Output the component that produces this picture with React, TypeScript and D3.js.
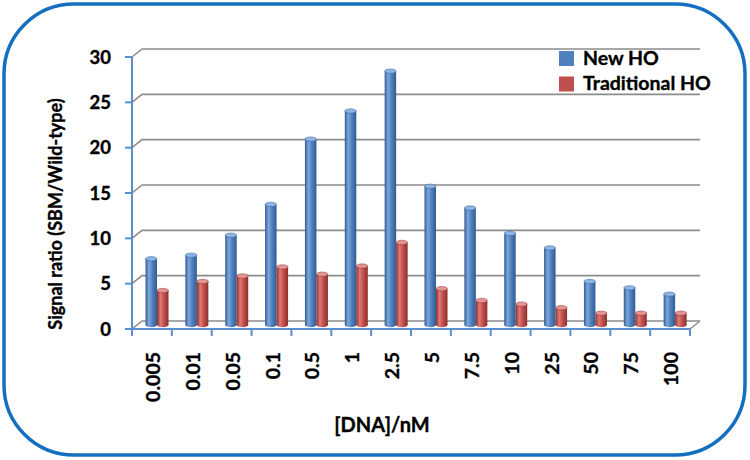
import React from "react";
import * as d3 from "d3";

const categories = ["0.005", "0.01", "0.05", "0.1", "0.5", "1", "2.5", "5", "7.5", "10", "25", "50", "75", "100"];
const newHO = [7.3, 7.7, 9.9, 13.3, 20.5, 23.6, 28.0, 15.3, 12.9, 10.1, 8.5, 4.8, 4.1, 3.4];
const tradHO = [3.8, 4.8, 5.4, 6.4, 5.6, 6.5, 9.1, 4.0, 2.7, 2.3, 1.9, 1.3, 1.3, 1.3];
const yTicks = [0, 5, 10, 15, 20, 25, 30];
const seriesNames = ["New HO", "Traditional HO"];

const W = 750, H = 460;
const X0 = 132, X1 = 690;
const DX = 10, DY = -8;
const FONT = "Lato, 'Open Sans', sans-serif";

export default function App() {
  const x = d3.scaleBand<string>().domain(categories).range([X0, X1]).padding(0);
  const yFront = d3.scaleLinear().domain([0, 30]).range([329, 57]);
  const yMid = (v: number) => yFront(v) + DY / 2;
  const bw = x.bandwidth();
  const barW = 11.5;
  const colors = [
    { base: "#4F81BD", dark: "#2f5d94", light: "#7ea6db", top: "#8fb3e3" },
    { base: "#C0504D", dark: "#8e2f2c", light: "#dd7a77", top: "#e39593" },
  ];
  const series = [newHO, tradHO];
  const txt = { fontFamily: FONT, fontWeight: 700, fill: "#000", stroke: "#000", strokeWidth: 0.35 } as const;

  return (
    <svg width={W} height={H} style={{ position: "absolute", left: 0, top: 0 }}>
      <defs>
        {colors.map((c, i) => (
          <linearGradient key={i} id={`cyl${i}`} x1="0" x2="1" y1="0" y2="0">
            <stop offset="0" stopColor={c.dark} />
            <stop offset="0.3" stopColor={c.light} />
            <stop offset="0.6" stopColor={c.base} />
            <stop offset="1" stopColor={c.dark} />
          </linearGradient>
        ))}
      </defs>
      <rect x={0} y={0} width={W} height={H} fill="#fff" />
      <rect x={4} y={4} width={741} height={451} rx={70} ry={70} fill="#fff" stroke="#156fc0" strokeWidth={3.5} />

      {/* back wall gridlines + side wall diagonals */}
      {yTicks.map((t) => (
        <path
          key={t}
          d={`M${X0},${yFront(t)} L${X0 + DX},${yFront(t) + DY} L${X1 + DX},${yFront(t) + DY}`}
          fill="none"
          stroke="#8c8c8c"
          strokeWidth={1.6}
        />
      ))}
      {/* floor right edge */}
      <path d={`M${X1},${yFront(0)} L${X1 + DX},${yFront(0) + DY}`} stroke="#8c8c8c" strokeWidth={1.6} fill="none" />

      {/* bars */}
      {categories.map((c, i) =>
        series.map((s, k) => {
          const bx = (x(c) as number) + 13.5 + k * barW;
          const yt = yMid(s[i]);
          const yb = yMid(0);
          const ry = 2.2;
          return (
            <g key={`${c}-${k}`}>
              <rect x={bx} y={yt} width={barW} height={yb - yt} fill={`url(#cyl${k})`} />
              <ellipse cx={bx + barW / 2} cy={yb} rx={barW / 2} ry={ry} fill={`url(#cyl${k})`} />
              <ellipse cx={bx + barW / 2} cy={yt} rx={barW / 2} ry={ry} fill={colors[k].top} stroke={colors[k].dark} strokeWidth={0.5} />
            </g>
          );
        })
      )}

      {/* y axis */}
      <line x1={X0} x2={X0} y1={yFront(30)} y2={yFront(0)} stroke="#5b8fd0" strokeWidth={2} />
      {yTicks.map((t) => (
        <g key={`yt${t}`}>
          <line x1={X0 - 7} x2={X0} y1={yFront(t)} y2={yFront(t)} stroke="#5b8fd0" strokeWidth={2} />
          <text x={111} y={yFront(t)} dy="0.36em" textAnchor="end" fontSize={18.5} {...txt}>
            {t}
          </text>
        </g>
      ))}

      {/* x axis */}
      <line x1={X0 - 7} x2={X1} y1={yFront(0)} y2={yFront(0)} stroke="#5b8fd0" strokeWidth={2} />
      {categories.map((c) => (
        <line key={`xt${c}`} x1={(x(c) as number) + bw} x2={(x(c) as number) + bw} y1={yFront(0)} y2={yFront(0) + 7} stroke="#5b8fd0" strokeWidth={2} />
      ))}
      <line x1={X0} x2={X0} y1={yFront(0)} y2={yFront(0) + 7} stroke="#5b8fd0" strokeWidth={2} />
      {categories.map((c) => (
        <text
          key={`xl${c}`}
          transform={`translate(${(x(c) as number) + bw / 2 + 1},352) rotate(-90)`}
          dy="0.36em"
          textAnchor="end"
          fontSize={19.5}
          {...txt}
        >
          {c}
        </text>
      ))}

      {/* axis titles */}
      <text transform="translate(56,214) rotate(-90)" dy="0.36em" textAnchor="middle" fontSize={18} {...txt}>
        Signal ratio (SBM/Wild-type)
      </text>
      <text x={382} y={432} textAnchor="middle" fontSize={20} {...txt}>
        [DNA]/nM
      </text>

      {/* legend */}
      {seriesNames.map((n, k) => (
        <g key={n}>
          <rect x={559} y={51 + k * 25.5} width={15} height={15} fill={colors[k].base} />
          <text x={583} y={64.5 + k * 25.5} fontSize={19.5} {...txt}>
            {n}
          </text>
        </g>
      ))}
    </svg>
  );
}
